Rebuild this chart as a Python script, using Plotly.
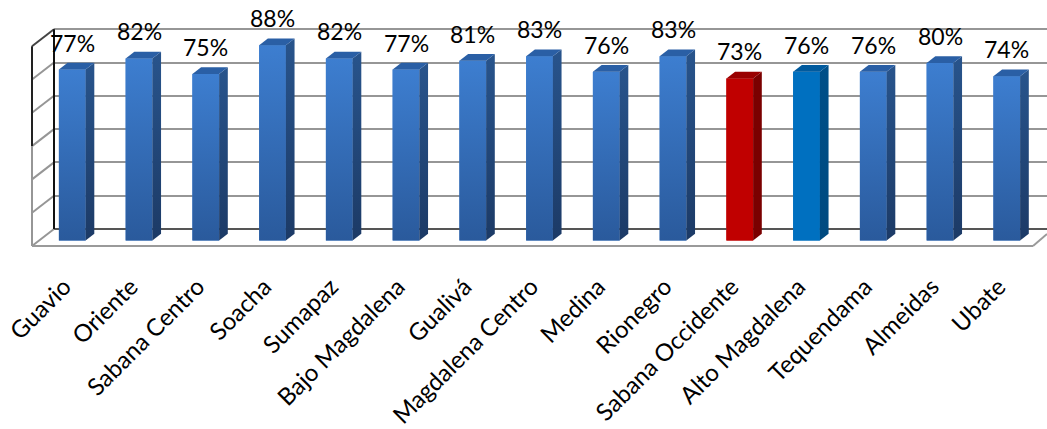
import plotly.graph_objects as go

categories = ["Guavio", "Oriente", "Sabana Centro", "Soacha", "Sumapaz", "Bajo Magdalena", "Gualivá",
              "Magdalena Centro", "Medina", "Rionegro", "Sabana Occidente", "Alto Magdalena",
              "Tequendama", "Almeidas", "Ubate"]
values = [77, 82, 75, 88, 82, 77, 81, 83, 76, 83, 73, 76, 76, 80, 74]
axis_ticks = [0, 15, 30, 45, 60, 75, 90]

W, H = 1047, 429
PITCH = 66.75          # px per category
UNIT = 2.22            # px per percent
X0PX = 72.25           # px centre of first category
BASEPX = 240.5         # px of value 0 on bar front plane
PLOT_L, PLOT_B = 54, 250

BAR_W = 0.4
BAR_DX = 8.7 / PITCH
BAR_DY = 6.7 / UNIT
WALL = 11.5 / UNIT     # back wall shift in value units
FRONT = -5.5 / UNIT    # front floor shift in value units
xlo = (PLOT_L - X0PX) / PITCH
xhi = (W - X0PX) / PITCH
ylo = -(PLOT_B - BASEPX) / UNIT
yhi = BASEPX / UNIT
xfront = xlo - 22 / PITCH

GRAD = dict(front=("#2A5A9C", "#3D7ED0"), side=("#1C3A66", "#28548C"), top="#2A5FA5")
styles = {i: GRAD for i in range(15)}
styles[10] = dict(front=("#C00000", "#C00000"), side=("#7A0000", "#7A0000"), top="#990000")
styles[11] = dict(front=("#0070C0", "#0070C0"), side=("#004A80", "#004F88"), top="#005A9E")

fig = go.Figure()


def paper_x(x):
    return (x - xlo) / (xhi - xlo)


def paper_y(y):
    return (y - ylo) / (yhi - ylo)


def frame(xs, ys, color, width=2):
    """Frame edge outside the plot area: paper-referenced so it is not clipped."""
    for a in range(len(xs) - 1):
        fig.add_shape(type="line", xref="paper", yref="paper",
                      x0=paper_x(xs[a]), x1=paper_x(xs[a + 1]),
                      y0=paper_y(ys[a]), y1=paper_y(ys[a + 1]),
                      line=dict(color=color, width=width), layer="above")


# front faces as real bars
fig.add_trace(go.Bar(x=list(range(len(values))), y=values, width=BAR_W,
                     marker=dict(color=[styles[i]["front"][1] for i in range(len(values))], line_width=0),
                     showlegend=False, hovertext=categories, hoverinfo="text+y"))

# side wall and floor of the 3D frame
for t in axis_ticks:
    frame([xfront, xlo], [t + FRONT, t + WALL], "#969696" if t < 90 else "#444444")
frame([xfront, xfront], [FRONT, 45 + FRONT], "#969696")
frame([xfront, xfront], [45 + FRONT, 90 + FRONT], "#222222")
frame([xlo, xlo], [WALL, 90 + WALL], "#111111")
floor_end = (1033 - X0PX) / PITCH
frame([xfront, floor_end, xhi], [FRONT, FRONT, FRONT + 12 / UNIT], "#9A9A9A")
# dark back edge of the floor, covered by the bar faces drawn after it
fig.add_trace(go.Scatter(x=[xlo, xhi], y=[WALL, WALL], mode="lines", line=dict(color="#555555", width=2),
                         hoverinfo="skip", showlegend=False))

# gradient skin, side and top faces, derived from values
for i, v in enumerate(values):
    s = styles[i]
    l, r = i - BAR_W / 2, i + BAR_W / 2
    fig.add_trace(go.Scatter(x=[l, r, r, l, l], y=[0, 0, v, v, 0], mode="none", fill="toself",
                             fillgradient=dict(type="vertical",
                                               colorscale=[[0, s["front"][0]], [1, s["front"][1]]]),
                             hoverinfo="skip", showlegend=False))
    fig.add_trace(go.Scatter(x=[r, r + BAR_DX, r + BAR_DX, r, r], y=[0, BAR_DY, v + BAR_DY, v, 0],
                             mode="none", fill="toself",
                             fillgradient=dict(type="vertical",
                                               colorscale=[[0, s["side"][0]], [1, s["side"][1]]]),
                             hoverinfo="skip", showlegend=False))
    fig.add_trace(go.Scatter(x=[l, r, r + BAR_DX, l + BAR_DX, l], y=[v, v, v + BAR_DY, v + BAR_DY, v],
                             mode="none", fill="toself", fillcolor=s["top"],
                             hoverinfo="skip", showlegend=False))

for i, v in enumerate(values):
    fig.add_annotation(x=i, y=v, text=f"{v}%", showarrow=False, yshift=27, xshift=0, yanchor="middle",
                       font=dict(family="Lato", size=23, color="#000000"))

fig.update_layout(
    width=W, height=H, margin=dict(l=PLOT_L, r=0, t=0, b=H - PLOT_B, autoexpand=False),
    paper_bgcolor="white", plot_bgcolor="white", showlegend=False, barmode="overlay",
    font=dict(family="Lato", size=24, color="#000000"),
    xaxis=dict(range=[xlo, xhi], tickmode="array", tickvals=list(range(len(categories))),
               ticktext=categories, tickangle=-45, showgrid=False, zeroline=False, showline=False,
               ticks="", ticklabelstandoff=17, ticklabelshift=-8,
               tickfont=dict(family="Lato", size=24, color="#000000")),
    yaxis=dict(range=[ylo, yhi], tick0=WALL, dtick=15, showgrid=True, gridcolor="#969696", gridwidth=2,
               zeroline=False, showticklabels=False, ticks="", showline=False),
)
fig.write_html("out.html", config=dict(displayModeBar=False),
               post_script="document.body.style.margin='0';document.body.style.overflow='hidden';")
